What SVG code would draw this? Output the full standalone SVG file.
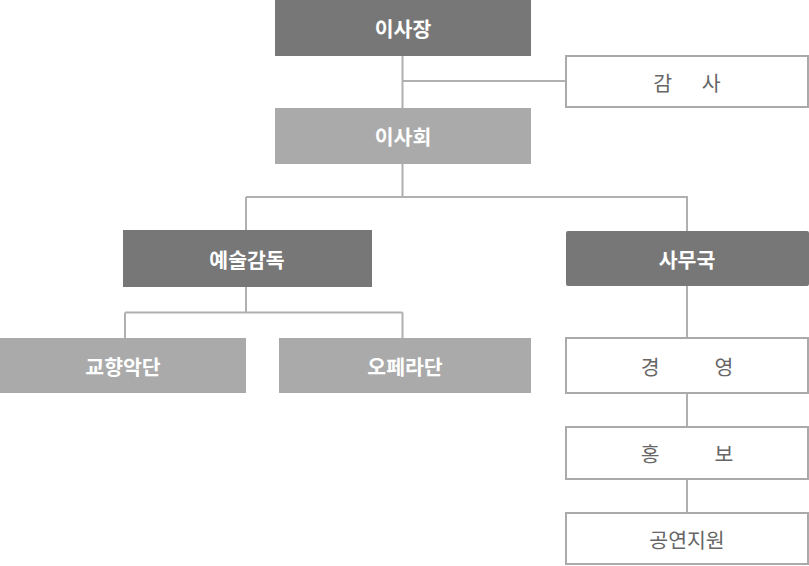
<svg xmlns="http://www.w3.org/2000/svg" width="809" height="566" viewBox="0 0 809 566">
<style>
.dark{fill:#777777}
.light{fill:#aaaaaa}
.box{fill:#ffffff;stroke:#aaaaaa;stroke-width:2}
.t{font-family:"Noto Sans CJK KR","Noto Sans",sans-serif;font-size:20.5px;text-anchor:middle;dominant-baseline:central}
.tw{fill:#ffffff;font-weight:bold}
.tg{fill:#666666}
.c{stroke:#b0b0b0;stroke-width:2;fill:none}
</style>
<rect width="809" height="566" fill="#ffffff"/>
<g id="connectors">
<path class="c" d="M402.5 56V108M402.5 81H566"/>
<path class="c" d="M402.5 164V197M246 197H687V231M246 197V230"/>
<path class="c" d="M246 287V312.5M125 312.5H402.5M125 312.5V338M402.5 312.5V338"/>
<path class="c" d="M687 286V338M687 394V427M687 479V513"/>
</g>
<g id="n1"><rect class="dark" x="275" y="0" width="256" height="56"/><text class="t tw" x="403" y="28">이사장</text></g>
<g id="n2"><rect class="box" x="566" y="56" width="242" height="51"/><text class="t tg" x="687" y="81.5">감　&#160;&#160;사</text></g>
<g id="n3"><rect class="light" x="275" y="108" width="256" height="56"/><text class="t tw" x="403" y="136">이사회</text></g>
<g id="n4"><rect class="dark" x="123" y="230" width="249" height="57"/><text class="t tw" x="247" y="258.5">예술감독</text></g>
<g id="n5"><rect class="dark" x="566" y="231" width="243" height="55" rx="2"/><text class="t tw" x="687" y="258.5">사무국</text></g>
<g id="n6"><rect class="light" x="0" y="338" width="246" height="55"/><text class="t tw" x="123" y="365.5">교향악단</text></g>
<g id="n7"><rect class="light" x="279" y="338" width="252" height="55"/><text class="t tw" x="405" y="365.5">오페라단</text></g>
<g id="n8"><rect class="box" x="566" y="338" width="242" height="55"/><text class="t tg" x="687" y="366">경　　&#160;&#160;&#160;영</text></g>
<g id="n9"><rect class="box" x="566" y="427" width="242" height="52"/><text class="t tg" x="687" y="453">홍　　&#160;&#160;&#160;보</text></g>
<g id="n10"><rect class="box" x="566" y="513" width="242" height="51"/><text class="t tg" x="687" y="539">공연지원</text></g>
</svg>
